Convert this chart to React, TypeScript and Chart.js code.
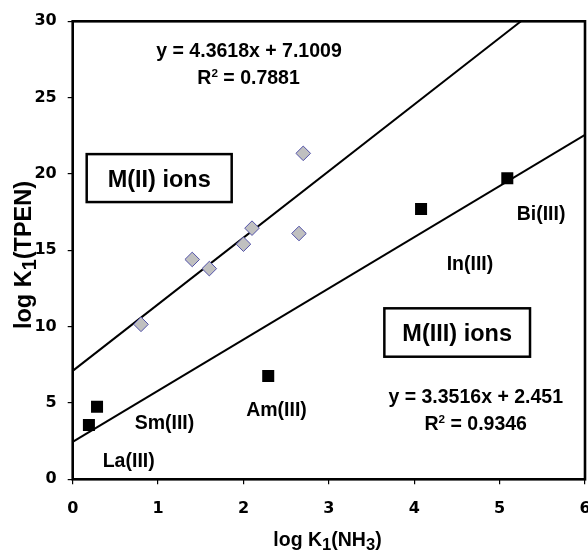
import React, { useEffect, useRef } from 'react';
import { Chart, registerables } from 'chart.js';

Chart.register(...registerables);

// M(II) ions (diamonds)
const m2X = [0.8, 1.4, 1.6, 2.0, 2.1, 2.65, 2.7];
const m2Y = [10.15, 14.4, 13.8, 15.4, 16.45, 16.1, 21.35];
// M(III) ions (squares)
const m3X = [0.19, 0.285, 2.29, 4.08, 5.09];
const m3Y = [3.55, 4.75, 6.77, 17.7, 19.72];

// linear trendlines (coefficients from the chart) and their x extents
const fit2Slope = 4.3618;
const fit2Intercept = 7.1009;
const fit2Range = [0, 5.25];
const fit3Slope = 3.3516;
const fit3Intercept = 2.451;
const fit3Range = [0, 6];

const xTicks = [0, 1, 2, 3, 4, 5, 6];
const yTicks = [0, 5, 10, 15, 20, 25, 30];

const ionLabels = ['Bi(III)', 'In(III)', 'Sm(III)', 'La(III)', 'Am(III)'];
const ionLabelX = [5.485, 4.653, 1.075, 0.656, 2.387];
const ionLabelY = [17.46, 14.15, 3.77, 1.26, 4.585];

const boxLabels = ['M(II) ions', 'M(III) ions'];
const boxX0 = [0.164, 3.65];
const boxX1 = [1.862, 5.356];
const boxY0 = [21.3, 11.2];
const boxY1 = [18.16, 8.03];

const ARIAL = '"Liberation Sans", Arial, sans-serif';

type Seg = { t: string; k?: 'sub' | 'sup' };

function drawRich(ctx: CanvasRenderingContext2D, segs: Seg[], cx: number, baseY: number, size: number) {
  const sz = (s: Seg) => (s.k === 'sub' ? size * 0.85 : s.k === 'sup' ? size * 0.6 : size);
  let total = 0;
  const widths: number[] = [];
  for (const s of segs) {
    ctx.font = `bold ${sz(s)}px ${ARIAL}`;
    const w = ctx.measureText(s.t).width;
    widths.push(w);
    total += w;
  }
  let x = cx - total / 2;
  ctx.textAlign = 'left';
  ctx.textBaseline = 'alphabetic';
  segs.forEach((s, i) => {
    ctx.font = `bold ${sz(s)}px ${ARIAL}`;
    const dy = s.k === 'sub' ? size * 0.22 : s.k === 'sup' ? -size * 0.34 : 0;
    ctx.fillText(s.t, x, baseY + dy);
    x += widths[i];
  });
}

const annotPlugin = {
  id: 'annot',
  afterDatasetsDraw(chart: any) {
    const ctx: CanvasRenderingContext2D = chart.ctx;
    const xs = chart.scales.x;
    const ys = chart.scales.y;
    const px = (v: number) => xs.getPixelForValue(v);
    const py = (v: number) => ys.getPixelForValue(v);
    ctx.save();
    ctx.fillStyle = '#000';
    // boxes
    boxLabels.forEach((t, i) => {
      const x0 = px(boxX0[i]), x1 = px(boxX1[i]);
      const y0 = py(boxY0[i]), y1 = py(boxY1[i]);
      ctx.fillStyle = '#fff';
      ctx.fillRect(x0, y0, x1 - x0, y1 - y0);
      ctx.strokeStyle = '#000';
      ctx.lineWidth = 2.5;
      ctx.strokeRect(x0, y0, x1 - x0, y1 - y0);
      ctx.fillStyle = '#000';
      const size = 23.5;
      drawRich(ctx, [{ t }], (x0 + x1) / 2, (y0 + y1) / 2 + size * 0.358, size);
    });
    // ion labels
    const ls = 19.5;
    ionLabels.forEach((t, i) => {
      drawRich(ctx, [{ t }], px(ionLabelX[i]), py(ionLabelY[i]) + ls * 0.358, ls);
    });
    // equations
    const eqs: { segs: Seg[]; x: number; y: number }[] = [
      { segs: [{ t: `y = ${fit2Slope}x + ${fit2Intercept}` }], x: 2.065, y: 28.13 },
      { segs: [{ t: 'R' }, { t: '2', k: 'sup' }, { t: ' = 0.7881' }], x: 2.06, y: 26.35 },
      { segs: [{ t: `y = ${fit3Slope}x + ${fit3Intercept}` }], x: 4.72, y: 5.46 },
      { segs: [{ t: 'R' }, { t: '2', k: 'sup' }, { t: ' = 0.9346' }], x: 4.72, y: 3.69 },
    ];
    eqs.forEach((e) => drawRich(ctx, e.segs, px(e.x), py(e.y) + ls * 0.358, ls));
    ctx.restore();
  },
  afterDraw(chart: any) {
    const ctx: CanvasRenderingContext2D = chart.ctx;
    const a = chart.chartArea;
    ctx.save();
    ctx.strokeStyle = '#000';
    ctx.lineWidth = 2.6;
    ctx.strokeRect(a.left, a.top, a.right - a.left, a.bottom - a.top);
    ctx.fillStyle = '#000';
    // x title
    drawRich(ctx, [{ t: 'log K' }, { t: '1', k: 'sub' }, { t: '(NH' }, { t: '3', k: 'sub' }, { t: ')' }], 327.5, 545.5, 19.5);
    // y title
    ctx.translate(30.5, 255);
    ctx.rotate(-Math.PI / 2);
    drawRich(ctx, [{ t: 'log K' }, { t: '1', k: 'sub' }, { t: '(TPEN)' }], 0, 0, 23.5);
    ctx.restore();
  },
};

export default function App() {
  const ref = useRef<HTMLCanvasElement>(null);
  useEffect(() => {
    document.body.style.margin = '0';
    const canvas = ref.current!;
    const tickFont = { family: '"DejaVu Sans", sans-serif', size: 16, weight: 'bold' as const };
    const chart = new Chart(canvas, {
      type: 'scatter',
      data: {
        datasets: [
          {
            label: 'M(II)',
            data: m2X.map((x, i) => ({ x, y: m2Y[i] })),
            pointStyle: 'rectRot',
            pointRadius: 7.3,
            backgroundColor: '#c0c0c0',
            borderColor: '#5252a8',
            borderWidth: 1,
          },
          {
            label: 'M(III)',
            data: m3X.map((x, i) => ({ x, y: m3Y[i] })),
            pointStyle: 'rect',
            pointRadius: 8.5,
            backgroundColor: '#000',
            borderColor: '#000',
            borderWidth: 0,
          },
          {
            label: 'fit M(II)',
            data: fit2Range.map((x) => ({ x, y: fit2Slope * x + fit2Intercept })),
            showLine: true,
            pointRadius: 0,
            borderColor: '#000',
            borderWidth: 2,
          },
          {
            label: 'fit M(III)',
            data: fit3Range.map((x) => ({ x, y: fit3Slope * x + fit3Intercept })),
            showLine: true,
            pointRadius: 0,
            borderColor: '#000',
            borderWidth: 2,
          },
        ],
      },
      options: {
        animation: false,
        responsive: false,
        devicePixelRatio: 1,
        layout: { padding: { top: 21.3, right: 15, left: 0, bottom: 0 } },
        plugins: { legend: { display: false }, tooltip: { enabled: false } },
        scales: {
          x: {
            type: 'linear',
            min: 0,
            max: 6,
            afterBuildTicks: (s: any) => {
              s.ticks = xTicks.map((v) => ({ value: v }));
            },
            afterFit: (s: any) => {
              s.height = 70.7;
              s.paddingLeft = 0;
              s.paddingRight = 0;
            },
            border: { display: false },
            grid: { drawOnChartArea: false, tickLength: 5, color: '#000', lineWidth: 1.2 },
            ticks: { font: tickFont, color: '#000', padding: 15, maxRotation: 0, autoSkip: false },
          },
          y: {
            type: 'linear',
            min: 0,
            max: 30,
            afterBuildTicks: (s: any) => {
              s.ticks = yTicks.map((v) => ({ value: v }));
            },
            afterFit: (s: any) => {
              s.width = 72.7;
              s.paddingTop = 0;
              s.paddingBottom = 0;
            },
            border: { display: false },
            grid: { drawOnChartArea: false, tickLength: 5, color: '#000', lineWidth: 1.2 },
            ticks: { font: tickFont, color: '#000', padding: 11, autoSkip: false },
          },
        },
      },
      plugins: [annotPlugin],
    });
    return () => chart.destroy();
  }, []);
  return (
    <div style={{ width: 588, height: 550, overflow: 'hidden', position: 'relative', background: '#fff' }}>
      <canvas ref={ref} width={600} height={550} style={{ display: 'block' }} />
    </div>
  );
}
